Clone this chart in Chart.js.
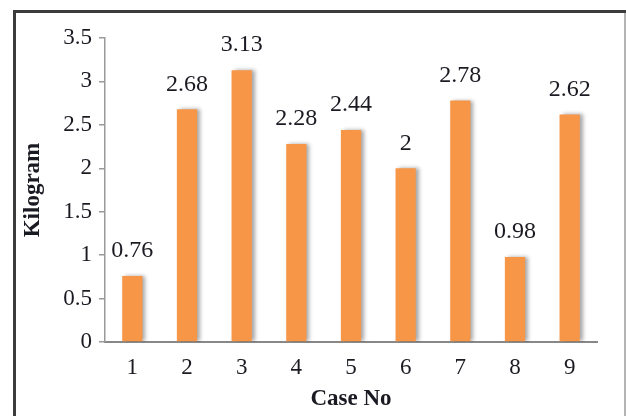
<!DOCTYPE html>
<html>
<head>
<meta charset="utf-8">
<script src="https://cdn.jsdelivr.net/npm/chart.js@4/dist/chart.umd.min.js"></script>
<style>
  html, body { margin: 0; padding: 0; background: #ffffff; }
  #wrap { width: 626px; height: 416px; position: relative; }
</style>
</head>
<body>
<div id="wrap"><canvas id="chart" width="626" height="416"></canvas></div>
<script>
// Mass per case (kg)
const caseNumbers = ['1', '2', '3', '4', '5', '6', '7', '8', '9'];
const kilograms = [0.76, 2.68, 3.13, 2.28, 2.44, 2, 2.78, 0.98, 2.62];
const yTicks = [0, 0.5, 1, 1.5, 2, 2.5, 3, 3.5];

const SERIF = '"Liberation Serif", "Times New Roman", serif';

// Frame around the figure
const framePlugin = {
  id: 'frame',
  beforeDraw(chart) {
    const ctx = chart.ctx;
    ctx.save();
    ctx.fillStyle = '#ffffff';
    ctx.fillRect(0, 0, chart.width, chart.height);
    ctx.fillStyle = '#3c3c3c';
    ctx.fillRect(13, 10, 3, chart.height - 10);   // left edge
    ctx.fillRect(13, 10, chart.width - 13, 3);    // top edge
    ctx.fillStyle = '#b4b4b4';
    ctx.fillRect(624, 13, 2, chart.height - 13);  // right edge
    ctx.restore();
  }
};

// Soft drop shadow on bars, plus value labels above each bar
const barDecor = {
  id: 'barDecor',
  beforeDatasetsDraw(chart) {
    const ctx = chart.ctx;
    ctx.save();
    ctx.shadowColor = 'rgba(0,0,0,0.35)';
    ctx.shadowBlur = 4;
    ctx.shadowOffsetX = 3;
    ctx.shadowOffsetY = 0;
  },
  afterDatasetsDraw(chart) {
    const ctx = chart.ctx;
    ctx.restore();
    ctx.save();
    ctx.font = '24px ' + SERIF;
    ctx.fillStyle = '#1a1a22';
    ctx.textAlign = 'center';
    ctx.textBaseline = 'middle';
    const meta = chart.getDatasetMeta(0);
    meta.data.forEach((bar, i) => {
      ctx.fillText(String(kilograms[i]), bar.x, bar.y - 25);
    });
    ctx.restore();
  }
};

new Chart(document.getElementById('chart'), {
  type: 'bar',
  data: {
    labels: caseNumbers,
    datasets: [{
      data: kilograms,
      backgroundColor: '#F79646',
      borderWidth: 0,
      barPercentage: 0.37,
      categoryPercentage: 1.0
    }]
  },
  options: {
    responsive: false,
    animation: false,
    events: [],
    layout: { padding: { top: 38, right: 29, left: 0, bottom: 0 } },
    plugins: {
      legend: { display: false },
      tooltip: { enabled: false }
    },
    scales: {
      x: {
        grid: { display: false, drawTicks: false },
        border: { display: true, color: '#888888', width: 2 },
        ticks: {
          padding: 12,
          color: '#1a1a22',
          font: { family: SERIF, size: 23 }
        },
        title: {
          display: true,
          text: 'Case No',
          color: '#1a1a22',
          font: { family: SERIF, size: 23, weight: 'bold' },
          padding: { top: 0, bottom: 3 }
        },
        afterFit(scale) { scale.height = 74; }
      },
      y: {
        min: 0,
        max: 3.5,
        afterBuildTicks(scale) {
          scale.ticks = yTicks.map(v => ({ value: v }));
        },
        grid: {
          display: true,
          drawOnChartArea: false,
          drawTicks: true,
          tickLength: 6,
          color: '#999999',
          lineWidth: 1.5
        },
        border: { display: true, color: '#999999', width: 1.5 },
        ticks: {
          padding: 7,
          color: '#1a1a22',
          font: { family: SERIF, size: 23 },
          callback: v => String(v)
        },
        title: {
          display: true,
          text: 'Kilogram',
          color: '#1a1a22',
          font: { family: SERIF, size: 23, weight: 'bold' },
          padding: { top: 19, bottom: 0 }
        },
        afterFit(scale) { scale.width = 105; }
      }
    }
  },
  plugins: [framePlugin, barDecor]
});
</script>
</body>
</html>
